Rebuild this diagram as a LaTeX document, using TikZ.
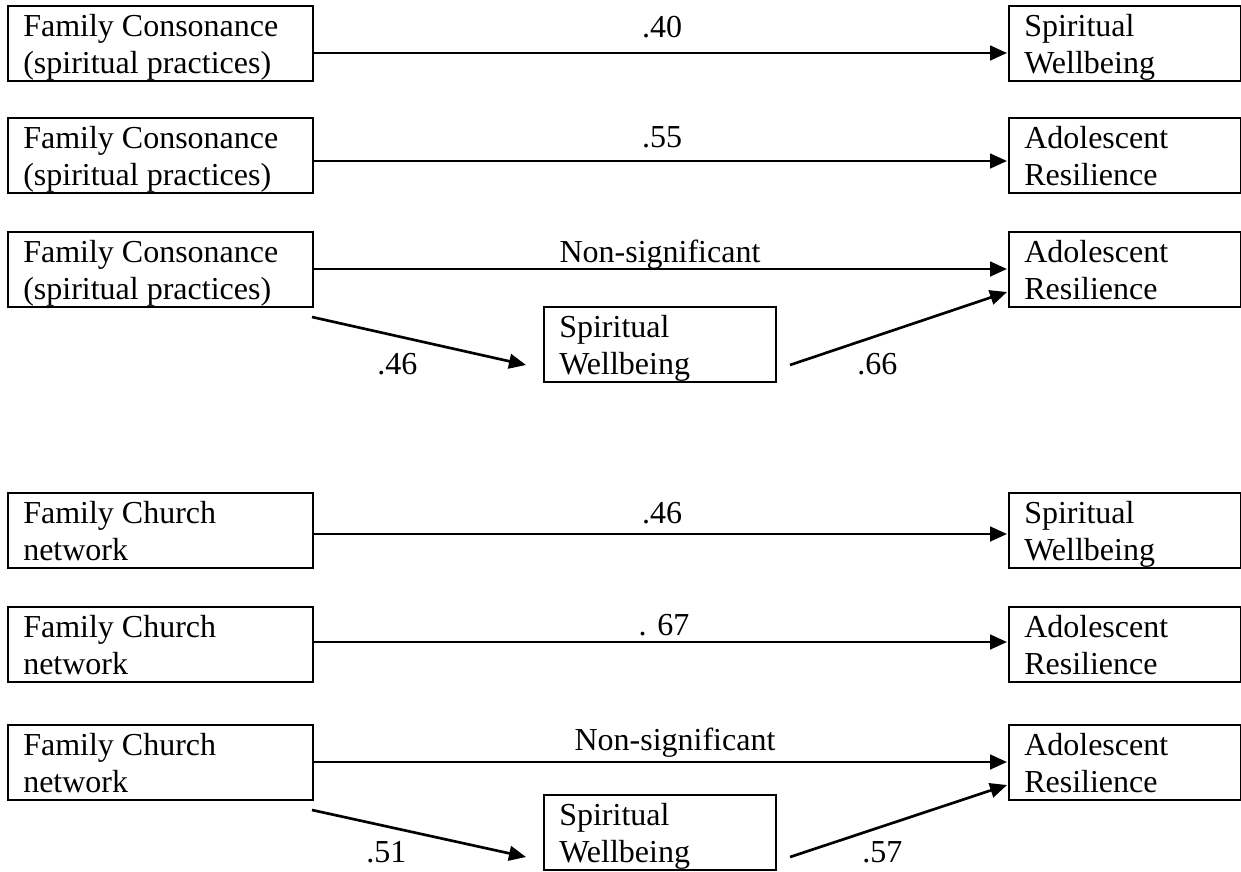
\documentclass[tikz,border=0pt]{standalone}
\usepackage{fontspec}
\setmainfont{Liberation Serif}
\usetikzlibrary{arrows.meta,calc}

\tikzset{
  varbox/.style={draw, line width=1.5pt, inner sep=0pt, outer sep=0pt,
    minimum height=56.25pt, anchor=north west},
  wide/.style={minimum width=228.75pt},
  narrow/.style={minimum width=174pt},
  boxtext/.style={inner sep=0pt, anchor=north west, align=left,
    font=\fontsize{24pt}{27.75pt}\selectfont},
  coef/.style={inner sep=0pt, font=\fontsize{24pt}{27.75pt}\selectfont},
  path/.style={line width=2pt, -{Triangle[length=12.75pt,width=11pt]}},
}

% box with its two-line caption: name, corner, width style, caption
\newcommand\varnode[4]{%
  \node[varbox,#3] (#1) at #2 {};
  \node[boxtext] (#1-t) at ($(#1.north west)+(15,8)$) {#4};
}

\begin{document}
\begin{tikzpicture}[x=0.75pt,y=-0.75pt]
\useasboundingbox (0,0) rectangle (1241,871);

% ---- Family consonance -------------------------------------------------
\varnode{L1}{(8,6)}{wide}{Family Consonance\\(spiritual practices)}
\varnode{R1}{(1009,6)}{narrow}{Spiritual\\Wellbeing}
\draw[path] ($(L1.north east)+(0,47)$) -- ($(R1.north west)+(-2,47)$);
\node[coef, anchor=base] (c1) at (662,37) {.40};

\varnode{L2}{(8,118)}{wide}{Family Consonance\\(spiritual practices)}
\varnode{R2}{(1009,118)}{narrow}{Adolescent\\Resilience}
\draw[path] ($(L2.north east)+(0,43)$) -- ($(R2.north west)+(-2,43)$);
\node[coef, anchor=base] (c2) at (662,147) {.55};

\varnode{L3}{(8,232)}{wide}{Family Consonance\\(spiritual practices)}
\varnode{R3}{(1009,232)}{narrow}{Adolescent\\Resilience}
\varnode{M3}{(544,307)}{narrow}{Spiritual\\Wellbeing}
\draw[path] ($(L3.north east)+(0,37)$) -- ($(R3.north west)+(-2,37)$);
\node[coef, anchor=base] (c3) at (660,262) {Non-significant};
\draw[path] ($(L3.south east)+(-1,10)$) -- ($(M3.north west)+(-18,58)$);
\draw[path] ($(M3.north east)+(14,58)$) -- ($(R3.south west)+(-2,-15)$);
\node[coef, anchor=base west] (c3a) at (377,374) {.46};
\node[coef, anchor=base west] (c3b) at (857,374) {.66};

% ---- Family church network ---------------------------------------------
\varnode{L4}{(8,493)}{wide}{Family Church\\network}
\varnode{R4}{(1009,493)}{narrow}{Spiritual\\Wellbeing}
\draw[path] ($(L4.north east)+(0,41)$) -- ($(R4.north west)+(-2,41)$);
\node[coef, anchor=base] (c4) at (662,523) {.46};

\varnode{L5}{(8,607)}{wide}{Family Church\\network}
\varnode{R5}{(1009,607)}{narrow}{Adolescent\\Resilience}
\draw[path] ($(L5.north east)+(0,35)$) -- ($(R5.north west)+(-2,35)$);
\node[coef, anchor=base] (c5) at (664,635) {. 67};

\varnode{L6}{(8,725)}{wide}{Family Church\\network}
\varnode{R6}{(1009,725)}{narrow}{Adolescent\\Resilience}
\varnode{M6}{(544,795)}{narrow}{Spiritual\\Wellbeing}
\draw[path] ($(L6.north east)+(0,37)$) -- ($(R6.north west)+(-2,37)$);
\node[coef, anchor=base] (c6) at (675,750) {Non-significant};
\draw[path] ($(L6.south east)+(-1,10)$) -- ($(M6.north west)+(-18,62)$);
\draw[path] ($(M6.north east)+(14,62)$) -- ($(R6.south west)+(-2,-15)$);
\node[coef, anchor=base west] (c6a) at (366,862) {.51};
\node[coef, anchor=base west] (c6b) at (862,862) {.57};
\end{tikzpicture}
\end{document}
